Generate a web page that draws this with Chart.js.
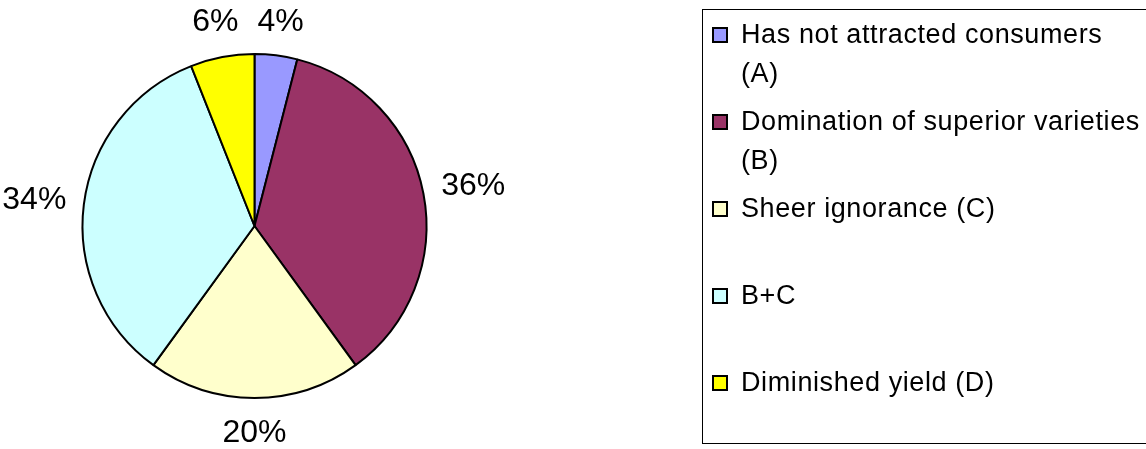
<!DOCTYPE html>
<html lang="en">
<head>
    <meta charset="UTF-8">
    <title>Reasons pie chart</title>
    <script src="https://cdn.jsdelivr.net/npm/chart.js"></script>
    <style>
        html, body {
            margin: 0;
            padding: 0;
            background: #fff;
        }
        .wrap {
            position: relative;
            width: 1146px;
            height: 449px;
            overflow: hidden;
        }
        #pieChart {
            position: absolute;
            left: 0;
            top: 0;
        }
        .legend {
            position: absolute;
            left: 702px;
            top: 9px;
            width: 460px;
            height: 433px;
            border: 1px solid #000;
            font-family: "Liberation Sans", Arial, sans-serif;
            font-size: 27px;
            letter-spacing: 0.6px;
            color: #000;
        }
        .legend-item {
            position: absolute;
            left: 38px;
            line-height: 39px;
            white-space: nowrap;
        }
        .legend-item .swatch {
            position: absolute;
            left: -29px;
            top: 12px;
            width: 16px;
            height: 16px;
            box-sizing: border-box;
            border: 2px solid #000;
        }
    </style>
</head>
<body>
    <div class="wrap">
        <canvas id="pieChart" width="1146" height="449"></canvas>
        <div class="legend" id="legend"></div>
    </div>

    <script>
        const categories = [
            ['Has not attracted consumers', '(A)'],
            ['Domination of superior varieties', '(B)'],
            ['Sheer ignorance (C)'],
            ['B+C'],
            ['Diminished yield (D)']
        ];
        const shares = [4, 36, 20, 34, 6];
        const sliceColors = ['#9999FF', '#993366', '#FFFFCC', '#CCFFFF', '#FFFF00'];

        // percent labels sitting just outside each slice
        const outsideLabels = {
            id: 'outsideLabels',
            afterDatasetsDraw(chart) {
                const ctx = chart.ctx;
                const meta = chart.getDatasetMeta(0);
                const total = shares.reduce((a, b) => a + b, 0);
                ctx.save();
                ctx.font = '32px "Liberation Sans", Arial, sans-serif';
                ctx.fillStyle = '#000';
                ctx.textAlign = 'center';
                ctx.textBaseline = 'middle';
                meta.data.forEach((arc, i) => {
                    const p = arc.getProps(['x', 'y', 'startAngle', 'endAngle', 'outerRadius'], true);
                    const mid = (p.startAngle + p.endAngle) / 2;
                    const text = Math.round(shares[i] / total * 100) + '%';
                    const w = ctx.measureText(text).width;
                    const h = 34;
                    const d = p.outerRadius + 16 + Math.abs(Math.cos(mid)) * w / 2 + Math.abs(Math.sin(mid)) * h / 2;
                    ctx.fillText(text, p.x + d * Math.cos(mid), p.y + d * Math.sin(mid) + 2);
                });
                ctx.restore();
            }
        };

        const pieChart = new Chart(document.getElementById('pieChart'), {
            type: 'pie',
            data: {
                labels: categories,
                datasets: [{
                    data: shares,
                    backgroundColor: sliceColors,
                    borderColor: '#000',
                    borderWidth: 2
                }]
            },
            options: {
                responsive: false,
                animation: false,
                radius: 172,
                layout: {
                    padding: { left: 0, right: 637, top: 3, bottom: 0 }
                },
                plugins: {
                    legend: { display: false },
                    tooltip: { enabled: false }
                }
            },
            plugins: [outsideLabels]
        });

        // legend built from the same arrays
        const legendEl = document.getElementById('legend');
        categories.forEach((lines, i) => {
            const item = document.createElement('div');
            item.className = 'legend-item';
            item.style.top = (5 + i * 87) + 'px';
            const sw = document.createElement('span');
            sw.className = 'swatch';
            sw.style.backgroundColor = sliceColors[i];
            item.appendChild(sw);
            item.appendChild(document.createTextNode(lines[0]));
            for (let k = 1; k < lines.length; k++) {
                item.appendChild(document.createElement('br'));
                item.appendChild(document.createTextNode(lines[k]));
            }
            legendEl.appendChild(item);
        });
    </script>
</body>
</html>
